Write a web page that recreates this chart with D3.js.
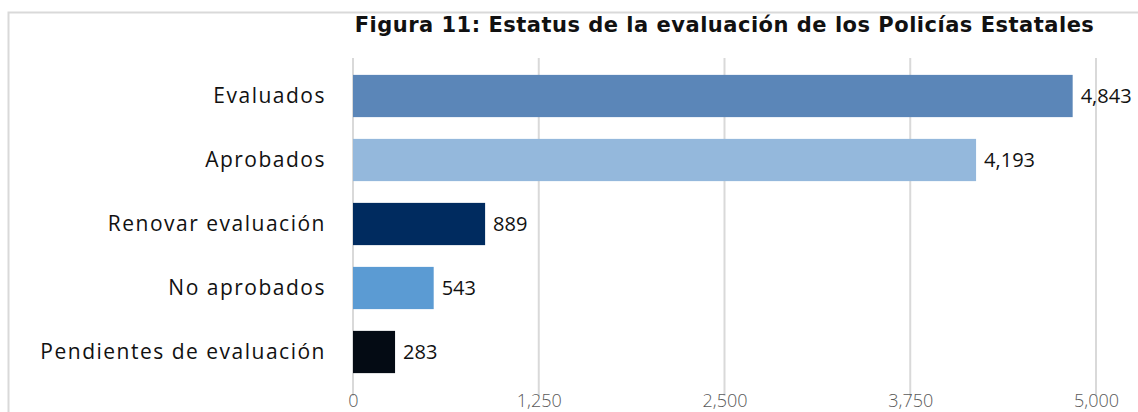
<!DOCTYPE html>
<html>
<head>
<meta charset="utf-8">
<title>Figura 11</title>
<script src="https://cdnjs.cloudflare.com/ajax/libs/d3/7.8.5/d3.min.js"></script>
<style>
  body { margin: 0; background: #fff; }
  text { font-family: "Open Sans", Lato, sans-serif; }
</style>
</head>
<body>
<script>
// data
var categories = ["Evaluados", "Aprobados", "Renovar evaluación", "No aprobados", "Pendientes de evaluación"];
var values = [4843, 4193, 889, 543, 283];
var barColors = ["#5b86b8", "#94b8dc", "#002b5f", "#5b9bd3", "#040b14"];
var tickValues = [0, 1250, 2500, 3750, 5000];
var title = "Figura 11: Estatus de la evaluación de los Policías Estatales";

var w = 1138, h = 412;

var svg = d3.select("body").append("svg")
  .attr("width", w)
  .attr("height", h);

// outer frame (only top and left visible)
svg.append("rect")
  .attr("x", 8.5).attr("y", 12.5)
  .attr("width", w + 20).attr("height", h + 20)
  .attr("fill", "none")
  .attr("stroke", "#d9d9d9")
  .attr("stroke-width", 2);

var x = d3.scaleLinear().domain([0, 5000]).range([353, 1096]);
var y = d3.scaleBand().domain(categories).range([64, 384]).paddingInner(0.34).paddingOuter(0.17);

// gridlines
svg.append("g").selectAll("line")
  .data(tickValues)
  .join("line")
  .attr("x1", d => x(d)).attr("x2", d => x(d))
  .attr("y1", 58).attr("y2", 396)
  .attr("stroke", "#d9d9d9")
  .attr("stroke-width", 2);

// bars
svg.append("g").selectAll("rect")
  .data(values)
  .join("rect")
  .attr("x", x(0))
  .attr("y", (d, i) => y(categories[i]))
  .attr("width", d => x(d) - x(0))
  .attr("height", y.bandwidth())
  .attr("fill", (d, i) => barColors[i]);

// value labels
svg.append("g").selectAll("text")
  .data(values)
  .join("text")
  .attr("x", d => x(d) + 8)
  .attr("y", (d, i) => y(categories[i]) + y.bandwidth() / 2)
  .attr("dy", "0.36em")
  .attr("font-size", 20)
  .attr("fill", "#111")
  .text(d => d3.format(",")(d));

// category axis
var yAxis = d3.axisLeft(y).tickSize(0).tickPadding(27);
var yg = svg.append("g").attr("transform", "translate(" + x(0) + ",0)").call(yAxis);
yg.select(".domain").remove();
yg.selectAll("text")
  .attr("font-size", 21)
  .attr("letter-spacing", "1.5px")
  .attr("fill", "#111")
  .style("font-family", "'Open Sans', Lato, sans-serif");

// value axis
var xAxis = d3.axisBottom(x).tickValues(tickValues).tickSize(0).tickPadding(0)
  .tickFormat(d3.format(","));
var xg = svg.append("g").attr("transform", "translate(0,407)").call(xAxis);
xg.select(".domain").remove();
xg.selectAll("text")
  .attr("font-size", 18)
  .attr("fill", "#595959")
  .attr("y", 0)
  .attr("dy", 0)
  .style("font-family", "'Open Sans', Lato, sans-serif")
  .style("font-weight", 300);

// title
svg.append("text")
  .attr("x", (x(0) + x(5000)) / 2)
  .attr("y", 32)
  .attr("text-anchor", "middle")
  .attr("font-size", 21)
  .attr("letter-spacing", "0.5px")
  .attr("font-weight", "bold")
  .attr("fill", "#111")
  .style("font-family", "'DejaVu Sans', sans-serif")
  .text(title);
</script>
</body>
</html>
